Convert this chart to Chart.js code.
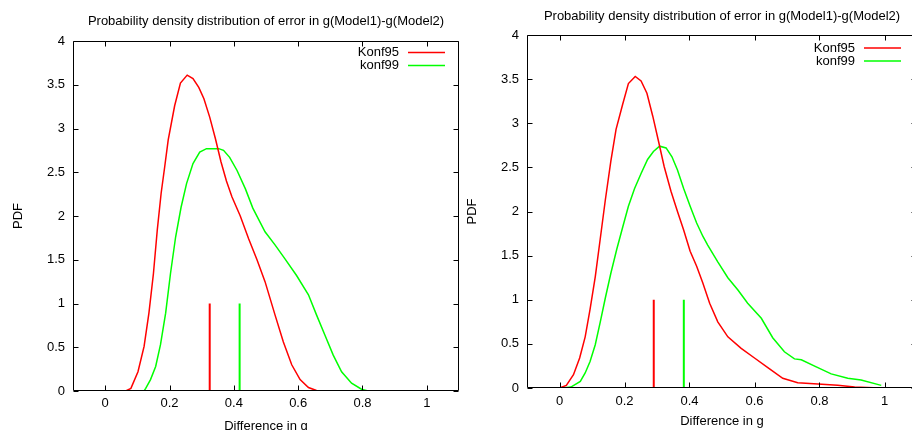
<!DOCTYPE html>
<html>
<head>
<meta charset="utf-8">
<script src="https://cdn.jsdelivr.net/npm/chart.js@4.4.1/dist/chart.umd.min.js"></script>
<style>
  html, body { margin: 0; padding: 0; background: #fff; overflow: hidden; width: 912px; height: 430px; position: relative; }
  #left { position: absolute; left: 0; top: 0; }
  #right { position: absolute; left: 456px; top: 0; }
</style>
</head>
<body>
<canvas id="left" width="470" height="440"></canvas>
<canvas id="right" width="470" height="440"></canvas>
<script>
// ---- data ----
const titleText = 'Probability density distribution of error in g(Model1)-g(Model2)';
const seriesNames = ['Konf95', 'konf99'];
const xTickVals = [0, 0.2, 0.4, 0.6, 0.8, 1];
const yTickVals = [0, 0.5, 1, 1.5, 2, 2.5, 3, 3.5, 4];

// left plot
const leftK95X = [0.01, 0.064, 0.080, 0.102, 0.121, 0.136, 0.150, 0.162, 0.174, 0.185, 0.196, 0.216, 0.234, 0.255, 0.273, 0.291, 0.307, 0.325, 0.343, 0.360, 0.377, 0.394, 0.420, 0.446, 0.472, 0.497, 0.528, 0.554, 0.580, 0.606, 0.632, 0.657, 0.99];
const leftK95Y = [0, 0, 0.03, 0.22, 0.51, 0.89, 1.34, 1.84, 2.26, 2.56, 2.87, 3.26, 3.52, 3.61, 3.57, 3.47, 3.34, 3.13, 2.88, 2.62, 2.40, 2.22, 2.00, 1.74, 1.50, 1.25, 0.87, 0.56, 0.30, 0.13, 0.04, 0.005, 0];
const leftK99X = [0.01, 0.121, 0.126, 0.141, 0.157, 0.172, 0.188, 0.203, 0.219, 0.236, 0.253, 0.273, 0.294, 0.315, 0.353, 0.368, 0.387, 0.410, 0.436, 0.459, 0.497, 0.528, 0.559, 0.595, 0.632, 0.657, 0.683, 0.709, 0.735, 0.766, 0.797, 0.817, 0.99];
const leftK99Y = [0, 0, 0.03, 0.13, 0.28, 0.53, 0.89, 1.34, 1.76, 2.10, 2.37, 2.60, 2.73, 2.77, 2.77, 2.75, 2.67, 2.52, 2.31, 2.09, 1.82, 1.67, 1.51, 1.32, 1.10, 0.87, 0.64, 0.41, 0.22, 0.09, 0.02, 0, 0];
const leftMarks = [0.325, 0.418];

// right plot
const rightK95X = [0, 0.021, 0.043, 0.062, 0.079, 0.094, 0.110, 0.125, 0.141, 0.158, 0.174, 0.194, 0.212, 0.233, 0.251, 0.269, 0.287, 0.305, 0.322, 0.343, 0.363, 0.382, 0.402, 0.422, 0.441, 0.462, 0.487, 0.518, 0.559, 0.600, 0.641, 0.687, 0.733, 0.795, 0.856, 0.908, 0.985];
const rightK95Y = [0, 0.03, 0.15, 0.34, 0.58, 0.89, 1.26, 1.68, 2.13, 2.57, 2.93, 3.21, 3.45, 3.53, 3.48, 3.34, 3.08, 2.79, 2.51, 2.23, 2.00, 1.79, 1.55, 1.38, 1.19, 0.96, 0.75, 0.58, 0.45, 0.34, 0.23, 0.11, 0.06, 0.045, 0.03, 0.01, 0];
const rightK99X = [0.01, 0.035, 0.064, 0.079, 0.094, 0.110, 0.125, 0.141, 0.158, 0.176, 0.195, 0.212, 0.231, 0.251, 0.271, 0.289, 0.308, 0.328, 0.346, 0.363, 0.382, 0.402, 0.422, 0.441, 0.456, 0.487, 0.518, 0.549, 0.579, 0.621, 0.656, 0.692, 0.723, 0.744, 0.790, 0.836, 0.887, 0.928, 0.990];
const rightK99Y = [0, 0.01, 0.075, 0.17, 0.30, 0.49, 0.74, 1.02, 1.30, 1.57, 1.83, 2.06, 2.26, 2.43, 2.59, 2.68, 2.74, 2.72, 2.62, 2.47, 2.26, 2.06, 1.87, 1.72, 1.62, 1.43, 1.25, 1.11, 0.96, 0.79, 0.57, 0.41, 0.33, 0.32, 0.24, 0.16, 0.11, 0.09, 0.03];
const rightMarks = [0.29, 0.3825];

const markTop = 1;
const colors = ['#ff0000', '#00ff00'];

Chart.defaults.font.family = '"Liberation Sans", Arial, sans-serif';
Chart.defaults.font.size = 13;
Chart.defaults.color = '#000';

const toPoints = (xs, ys) => xs.map((x, i) => ({ x: x, y: ys[i] }));

// gnuplot look: full box, inward ticks on all sides, title over plot, legend top right
const gnuplotFrame = {
  id: 'gnuplotFrame',
  afterDraw(chart, args, opts) {
    const ctx = chart.ctx;
    const a = chart.chartArea;
    const xs = chart.scales.x, ys = chart.scales.y;
    const L = Math.round(a.left) + 0.5, R = Math.round(a.right) - 0.5;
    const T = Math.round(a.top) + 0.5, B = Math.round(a.bottom) - 0.5;
    ctx.save();
    ctx.strokeStyle = '#000';
    ctx.lineWidth = 1;
    ctx.beginPath();
    ctx.rect(L, T, R - L, B - T);
    ctx.stroke();
    xTickVals.forEach(v => {
      const px = Math.round(xs.getPixelForValue(v)) + 0.5;
      ctx.beginPath();
      ctx.moveTo(px, B); ctx.lineTo(px, B - 5);
      ctx.moveTo(px, T); ctx.lineTo(px, T + 5);
      ctx.stroke();
    });
    yTickVals.forEach(v => {
      const py = Math.round(ys.getPixelForValue(v)) + 0.5;
      ctx.beginPath();
      ctx.moveTo(L, py); ctx.lineTo(L + 5, py);
      ctx.moveTo(R, py); ctx.lineTo(R - 5, py);
      ctx.stroke();
    });

    ctx.font = '13px "Liberation Sans", Arial, sans-serif';
    ctx.fillStyle = '#000';
    ctx.textAlign = 'center';
    ctx.textBaseline = 'middle';
    ctx.fillText(opts.title, (a.left + a.right) / 2, opts.titleY);

    ctx.textAlign = 'right';
    chart.data.datasets.filter(d => d.inLegend).forEach((d, i) => {
      const y = opts.legendY + i * 13;
      ctx.fillText(d.label, opts.legendX - opts.legendLen - 9, y);
      ctx.strokeStyle = d.borderColor;
      ctx.lineWidth = 1.5;
      ctx.beginPath();
      ctx.moveTo(opts.legendX - opts.legendLen, y);
      ctx.lineTo(opts.legendX, y);
      ctx.stroke();
    });
    ctx.restore();
  }
};

function makePlot(id, area, k95, k99, marks, look) {
  const H = 440, W = 470;
  const datasets = [
    { label: seriesNames[0], data: k95, borderColor: colors[0], borderWidth: 1.5, inLegend: true },
    { label: seriesNames[1], data: k99, borderColor: colors[1], borderWidth: 1.5, inLegend: true }
  ];
  marks.forEach((m, i) => {
    datasets.push({ label: '', data: [{ x: m, y: 0 }, { x: m, y: markTop }], borderColor: colors[i], borderWidth: 2 });
  });
  return new Chart(document.getElementById(id).getContext('2d'), {
    type: 'line',
    data: { datasets: datasets },
    options: {
      responsive: false,
      animation: false,
      devicePixelRatio: 1,
      layout: { padding: { left: 0, top: area.top, right: W - area.right, bottom: 0 } },
      elements: { point: { radius: 0 }, line: { tension: 0 } },
      plugins: {
        legend: { display: false },
        tooltip: { enabled: false },
        gnuplotFrame: { title: titleText, titleY: look.titleY, legendX: look.legendX, legendY: look.legendY, legendLen: 37 }
      },
      scales: {
        x: {
          type: 'linear', min: -0.1, max: 1.1,
          grid: { display: false, drawTicks: false },
          border: { display: false },
          ticks: { padding: look.xTickPad, maxRotation: 0, callback: v => String(v) },
          afterBuildTicks: s => { s.ticks = xTickVals.map(v => ({ value: v })); },
          afterFit: s => { s.height = H - area.bottom; s.paddingLeft = 0; s.paddingRight = 0; },
          title: { display: true, text: 'Difference in g', padding: { top: 0, bottom: look.xTitlePad } }
        },
        y: {
          type: 'linear', min: 0, max: 4,
          grid: { display: false, drawTicks: false },
          border: { display: false },
          ticks: { padding: 8, callback: v => String(v) },
          afterBuildTicks: s => { s.ticks = yTickVals.map(v => ({ value: v })); },
          afterFit: s => { s.width = area.left; s.paddingTop = 0; s.paddingBottom = 0; },
          title: { display: true, text: 'PDF', padding: { top: look.yTitlePad, bottom: 0 } }
        }
      }
    },
    plugins: [gnuplotFrame]
  });
}

const leftChart = makePlot('left', { left: 73, right: 459, top: 41, bottom: 391 },
  toPoints(leftK95X, leftK95Y), toPoints(leftK99X, leftK99Y), leftMarks,
  { titleY: 21, legendX: 445, legendY: 52.5, xTickPad: 5, xTitlePad: 6.2, yTitlePad: 10.2 });

const rightChart = makePlot('right', { left: 71, right: 461, top: 35, bottom: 388 },
  toPoints(rightK95X, rightK95Y), toPoints(rightK99X, rightK99Y), rightMarks,
  { titleY: 16, legendX: 445, legendY: 48, xTickPad: 6, xTitlePad: 11.2, yTitlePad: 8.2 });
</script>
</body>
</html>
